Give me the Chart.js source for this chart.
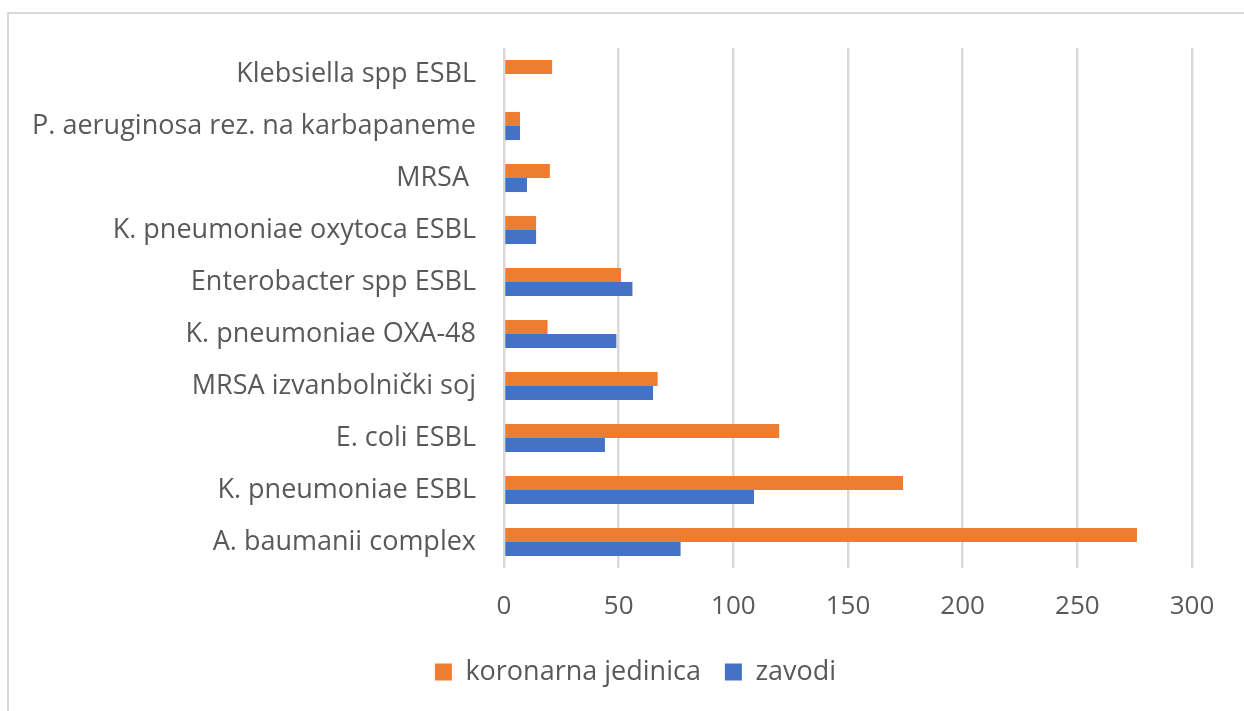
<!DOCTYPE html>
<html>
<head>
<meta charset="utf-8">
<script src="https://cdn.jsdelivr.net/npm/chart.js@4.4.0/dist/chart.umd.min.js"></script>
<style>
  html, body { margin: 0; padding: 0; background: #fff; }
  #wrap { position: relative; width: 1244px; height: 711px; overflow: hidden; }
  #frame { position: absolute; left: 7px; top: 12px; width: 1300px; height: 800px; border: 2px solid #d9d9d9; box-sizing: border-box; pointer-events: none; }
  canvas { position: absolute; left: 0; top: 0; }
</style>
</head>
<body>
<div id="wrap">
  <canvas id="chart" width="1244" height="711"></canvas>
  <div id="frame"></div>
</div>
<script>
const categories = [
    'Klebsiella spp ESBL',
    'P. aeruginosa rez. na karbapaneme',
    'MRSA ',
    'K. pneumoniae oxytoca ESBL',
    'Enterobacter spp ESBL',
    'K. pneumoniae OXA-48',
    'MRSA izvanbolnički soj',
    'E. coli ESBL',
    'K. pneumoniae ESBL',
    'A. baumanii complex'
];
const koronarna = [21, 7, 20, 14, 51, 19, 67, 120, 174, 276];
const zavodi = [0, 7, 10, 14, 56, 49, 65, 44, 109, 77];
const xTicks = [0, 50, 100, 150, 200, 250, 300];

window.addEventListener('load', function () {
    const txt = '#595959';
    const labelFont = { family: 'Open Sans', size: 27 };
    const tickFont = { family: 'Open Sans', size: 26 };

    // legend sits a bit right of the canvas centre in the original
    const shiftLegend = {
        id: 'shiftLegend',
        afterLayout: function (chart) {
            chart.legend.left = 79;
        }
    };

    const data = {
        labels: categories,
        datasets: [
            {
                label: 'koronarna jedinica',
                data: koronarna,
                backgroundColor: '#ed7d31',
                borderWidth: 0
            },
            {
                label: 'zavodi',
                data: zavodi,
                backgroundColor: '#4472c4',
                borderWidth: 0
            }
        ]
    };

    const config = {
        type: 'bar',
        data: data,
        plugins: [shiftLegend],
        options: {
            indexAxis: 'y',
            responsive: false,
            animation: false,
            layout: { padding: { left: 0, right: 52, top: 48, bottom: 15.5 } },
            datasets: { bar: { categoryPercentage: 0.54, barPercentage: 1 } },
            scales: {
                x: {
                    min: 0,
                    max: 300,
                    afterBuildTicks: function (scale) {
                        scale.ticks = xTicks.map(v => ({ value: v }));
                    },
                    afterFit: function (scale) { scale.height = 66.5; },
                    grid: { color: '#d9d9d9', lineWidth: 2.5, drawTicks: false },
                    border: { display: false },
                    ticks: { color: txt, font: tickFont, padding: 23, maxRotation: 0 }
                },
                y: {
                    afterFit: function (scale) { scale.width = 504; },
                    grid: { display: false, drawTicks: false },
                    border: { display: false },
                    ticks: { color: txt, font: labelFont, padding: 28 }
                }
            },
            plugins: {
                legend: {
                    position: 'bottom',
                    labels: { color: txt, font: labelFont, boxWidth: 17, boxHeight: 17, padding: 24 }
                },
                tooltip: { enabled: false }
            }
        }
    };

    const ctx = document.getElementById('chart').getContext('2d');
    const chart = new Chart(ctx, config);
});
</script>
</body>
</html>
